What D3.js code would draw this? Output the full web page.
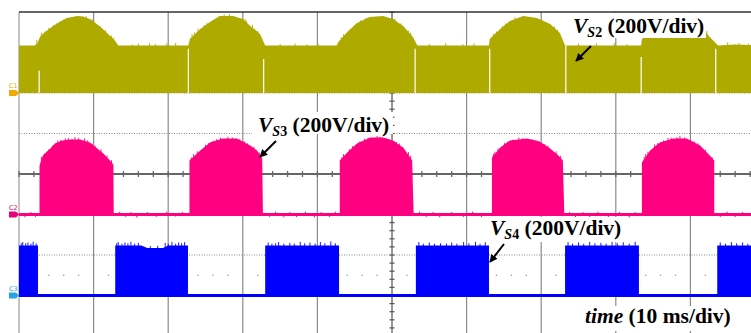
<!DOCTYPE html>
<html><head><meta charset="utf-8">
<script src="https://cdn.jsdelivr.net/npm/d3@7"></script>
<style>body{margin:0;background:#fff}svg{display:block}</style>
</head><body><svg id="c" width="751" height="333"></svg>
<script>
// ---- data (time in ms, voltage in V) ----
const timeTicks = [0,10,20,30,40,50,60,70,80,90,100];
const divTicks = [-4,-3,-2,-1,0,1,2,3,4];
const channels = ["C1","C2","C3"];
const channelOffsets = [2,-1,-3];        // graticule divisions
const voltsPerDiv = 200;

const c1Env = [[0,234],[2.1,234],[2.5,247],[2.8,277],[3.2,291],[4.2,321],[5.2,346],[6.4,370],[7.8,380],[8.6,378],[9.5,365],[10.6,336],[11.8,296],[12.9,257],[13.3,234],
[22.7,234],[22.9,267],[24.3,316],[25.6,351],[26.9,380],[28.7,380],[30.0,365],[31.0,331],[32.3,291],[33.0,234],
[42.6,234],[42.8,252],[44.0,301],[45.3,346],[47.0,375],[48.8,380],[50.1,365],[51.5,331],[52.8,277],[53.4,234],
[63.0,234],[63.1,267],[64.5,316],[65.8,356],[67.6,380],[69.4,370],[71.2,341],[72.5,296],[73.2,234],
[83.4,234],[83.5,267],[85.0,306],[86.6,356],[88.2,380],[90.0,370],[91.3,331],[92.6,277],[93.7,234],
[96.0,240],[98.0,237],[100,234]];
const c1Spikes = [[2.4,262],[3.0,298],[3.4,300],[3.6,306],[4.0,322],[4.6,336],[5.0,344],[5.5,354],[6.0,364],[9.0,380],[9.8,366],[10.1,352],[10.9,330],[11.2,318],[11.6,310],[12.4,284],[12.7,274],
[15.2,240],[16.0,244],[17.5,246],[18.3,241],[19.8,245],[21.0,247],
[23.2,290],[23.5,300],[24.0,318],[24.8,336],[25.2,346],[27.5,388],[28.2,390],[30.3,366],[30.5,356],[31.3,336],[31.6,318],[32.0,306],
[35.0,242],[37.0,244],[38.6,240],[40.1,243],
[43.2,276],[43.5,290],[44.3,312],[45.8,360],[46.5,372],[50.4,366],[50.6,354],[51.2,344],[52.2,308],[52.5,298],
[55.0,243],[57.2,246],[59.5,241],[61.0,245],
[63.6,292],[64.0,304],[64.8,330],[65.2,344],[66.5,374],[70.2,358],[70.6,350],[71.8,328],[72.2,312],
[75.0,243],[77.4,244],[79.8,246],[81.5,241],
[84.0,290],[84.3,296],[84.6,304],[85.7,334],[91.6,324],[91.8,318],[92.2,306],[95.0,250],[96.5,247],[97.8,243]];
const c1Gaps = [[2.7,110],[22.7,218],[32.8,168],[53.1,218],[63.1,218],[73.3,234],[83.4,178],[93.4,218]];

const c2Env = [[0,0],[2.75,0],[2.75,242],[3.2,291],[4.2,326],[4.8,351],[5.8,365],[6.8,370],[8.2,370],[9.5,356],[10.5,326],[11.3,301],[12.2,267],[12.65,247],[12.7,0],
[22.85,0],[22.85,267],[24.3,316],[25.6,356],[27.3,375],[29.2,375],[31.0,341],[31.9,316],[32.6,277],[32.7,0],
[43.0,0],[43.0,267],[44.0,306],[45.3,351],[47.1,380],[48.8,380],[50.1,365],[51.5,331],[52.7,267],[52.9,0],
[63.4,0],[63.4,281],[64.5,331],[65.8,365],[68.1,375],[69.8,360],[71.2,326],[72.3,291],[72.9,267],[73.1,0],
[83.5,0],[83.5,257],[84.6,316],[85.9,356],[87.7,375],[89.5,375],[91.3,341],[92.6,291],[93.2,267],[93.2,0],[100,0]];
const c2Spikes = [[3.0,285],[3.5,304],[3.8,312],[4.0,322],[4.5,340],[5.2,366],[5.6,368],[6.2,376],[6.6,378],[7.1,374],[7.5,382],[8.0,378],[8.8,376],[9.2,366],[9.8,350],[10.2,340],[11.0,322],[11.8,292],[12.4,268],
[23.1,282],[23.4,298],[23.9,312],[25.0,344],[25.4,352],[26.0,364],[26.5,372],[27.0,380],[28.0,384],[28.6,380],[29.6,374],[30.2,362],[30.6,352],[31.5,334],[32.2,308],
[43.3,284],[43.5,298],[44.3,322],[44.7,338],[45.7,362],[46.3,374],[46.8,380],[48.0,388],[48.4,384],[49.2,378],[49.6,374],[50.6,358],[51.0,350],[52.2,308],[52.5,290],
[63.6,300],[63.8,310],[64.2,326],[65.1,354],[65.5,360],[66.2,370],[67.0,380],[67.5,376],[68.8,372],[69.3,366],[70.5,348],[70.9,340],[72.0,312],[72.6,290],
[83.8,284],[84.0,298],[84.3,310],[85.2,346],[85.6,352],[86.4,366],[87.0,378],[87.4,380],[88.2,382],[88.6,388],[89.2,380],[90.0,370],[90.5,362],[91.0,352],[92.0,320],[92.9,284]];
const c2Noise = [[0.8,-14],[1.6,12],[2.2,-12],[13.5,14],[14.3,-12],[15.0,12],[15.8,-15],[17.2,12],[18.4,-12],[19.8,14],[21.0,-10],[21.9,12],
[33.6,-12],[34.4,14],[35.5,-14],[36.3,12],[37.2,-12],[38.4,14],[39.6,-14],[40.5,12],[41.6,-12],[42.4,14],
[53.7,14],[54.6,-12],[55.5,12],[56.4,-14],[58.0,12],[59.6,-12],[60.8,14],[62.0,-12],
[73.8,12],[74.6,-14],[75.6,12],[76.5,-12],[77.6,14],[79.0,-12],[80.5,12],[81.8,-14],[82.6,12],
[94.0,-12],[94.9,14],[96.0,-12],[97.0,12],[98.2,-14],[99.3,12]];

const c3Env = [[0,247],[2.55,247],[2.55,0],
[12.9,0],[12.9,247],[16.4,247],[17.2,234],[19.3,234],[20.0,247],[22.65,247],[22.65,0],
[33.0,0],[33.0,247],[42.9,247],[42.9,0],
[53.2,0],[53.2,247],[63.0,247],[63.0,0],
[73.2,0],[73.2,247],[83.1,247],[83.1,0],
[93.6,0],[93.6,247],[100,247]];
const c3Spikes = [[0.3,258],[0.5,264],[0.9,258],[1.2,262],[1.6,256],[1.9,266],[2.3,258],
[13.1,258],[13.3,264],[13.8,256],[14.2,262],[14.6,258],[15.0,265],[15.5,256],[16.0,260],[17.6,244],[18.6,246],[19.6,260],[20.0,256],[20.5,265],[21.0,256],[21.4,262],[21.8,258],[22.2,264],
[33.4,262],[33.9,256],[34.4,258],[34.8,264],[35.5,256],[36.3,260],[36.9,256],[37.7,265],[38.3,258],[39.0,262],[39.7,256],[40.4,264],[41.0,258],[41.8,267],[42.4,258],
[53.6,264],[54.2,256],[55.0,262],[55.7,256],[56.5,258],[57.3,256],[58.0,262],[58.7,256],[59.6,264],[60.3,258],[61.2,265],[61.8,256],[62.5,263],
[73.6,264],[74.2,256],[75.0,262],[75.7,256],[76.5,264],[77.2,258],[78.0,260],[78.7,256],[79.5,264],[80.2,258],[81.0,263],[81.8,256],[82.6,265],
[94.0,262],[94.7,256],[95.5,264],[96.2,258],[97.0,262],[97.7,256],[98.5,263],[99.2,258]];

const colors = ["#aeaa00","#ff0080","#0000ff"];
const markerColors = ["#f3a800","#e8007c","#2aa4e0"];

// ---- scales ----
const svg = d3.select("#c");
const x = d3.scaleLinear().domain([0,100]).range([19,765]);
const y = d3.scaleLinear().domain([-4,4]).range([336,12]);
const yV = (ch, v) => y(channelOffsets[ch] + v/voltsPerDiv);

// ---- graticule ----
const g = svg.append("g");
g.selectAll("line.v").data(timeTicks.slice(1)).join("line")
  .attr("x1", d=>x(d)).attr("x2", d=>x(d)).attr("y1", y(4)).attr("y2", 333)
  .attr("stroke", "#8a8a8a").attr("stroke-width", 1.2);
g.append("line").attr("x1", x(0)).attr("x2", x(0)).attr("y1", y(4)).attr("y2", 333)
  .attr("stroke", "#c4c4c4").attr("stroke-width", 2);
g.selectAll("line.h").data(divTicks.filter(d=>d!==0 && d!==4)).join("line")
  .attr("x1", x(0)).attr("x2", 751).attr("y1", d=>y(d)).attr("y2", d=>y(d))
  .attr("stroke", "#888").attr("stroke-width", 1).attr("stroke-dasharray", "1,1.5");
g.append("line").attr("x1", x(0)).attr("x2", 751).attr("y1", y(0)).attr("y2", y(0))
  .attr("stroke", "#666").attr("stroke-width", 2);
g.selectAll("line.ht").data(d3.range(0,100.1,2)).join("line")
  .attr("x1", d=>x(d)).attr("x2", d=>x(d)).attr("y1", y(0)-3).attr("y2", y(0)+3)
  .attr("stroke", "#666").attr("stroke-width", 1.3);
g.append("line").attr("x1", x(50)).attr("x2", x(50)).attr("y1", y(4)).attr("y2", 333)
  .attr("stroke", "#777").attr("stroke-width", 1);
g.selectAll("line.vt").data(d3.range(-4,4.01,0.2)).join("line")
  .attr("x1", x(50)-2.5).attr("x2", x(50)+2.5).attr("y1", d=>y(d)).attr("y2", d=>y(d))
  .attr("stroke", "#555").attr("stroke-width", 1.2);
g.selectAll("circle.dot").data(d3.range(2,100,2).filter(d=>d%10!==0)).join("circle")
  .attr("cx", d=>x(d)).attr("cy", y(-2.5)).attr("r", 0.8).attr("fill", "#999");

// ---- traces ----
svg.append("clipPath").attr("id","pc").append("rect")
  .attr("x", x(0)).attr("y", y(4)).attr("width", 751-x(0)).attr("height", 333-y(4));
const tr = svg.append("g").attr("clip-path","url(#pc)");
const envs = [c1Env, c2Env, c3Env];
const spikes = [c1Spikes, c2Spikes, c3Spikes];
envs.forEach((env, ch) => {
  const area = d3.area().x(d=>x(d[0])).y0(yV(ch,0)).y1(d=>yV(ch,d[1]));
  tr.append("path").datum(env).attr("d", area).attr("fill", colors[ch]);
  tr.selectAll(null).data(spikes[ch]).join("line")
    .attr("x1", d=>x(d[0])).attr("x2", d=>x(d[0])).attr("y1", yV(ch,0)).attr("y2", d=>yV(ch,d[1]))
    .attr("stroke", colors[ch]).attr("stroke-width", 0.9);
});
tr.selectAll(null).data(c1Gaps).join("line")
  .attr("x1", d=>x(d[0])).attr("x2", d=>x(d[0])).attr("y1", yV(0,0)).attr("y2", d=>yV(0,d[1]))
  .attr("stroke", "#fff").attr("stroke-width", 1.2);
[1,2].forEach(ch => {
  tr.append("line").attr("x1", x(0)).attr("x2", 751).attr("y1", yV(ch,0)).attr("y2", yV(ch,0))
    .attr("stroke", colors[ch]).attr("stroke-width", 3);
});
tr.selectAll(null).data(c2Noise).join("line")
  .attr("x1", d=>x(d[0])).attr("x2", d=>x(d[0])).attr("y1", yV(1,0)).attr("y2", d=>yV(1,d[1]))
  .attr("stroke", colors[1]).attr("stroke-width", 1);

svg.append("line").attr("x1", x(0)).attr("x2", 751).attr("y1", y(4)).attr("y2", y(4))
  .attr("stroke", "#333").attr("stroke-width", 1.5);

channels.forEach((c, ch) => {
  const b = yV(ch,0);
  svg.append("path").attr("d", `M9,${b-3}L16,${b-3}L19,${b}L16,${b+3}L9,${b+3}Z`).attr("fill", markerColors[ch]);
  svg.append("text").attr("x", 9).attr("y", b-5).attr("font-family","DejaVu Sans").attr("font-size", 6.5)
    .attr("fill", markerColors[ch]).text(c);
});

// ---- annotations ----
svg.append("defs").append("marker").attr("id","ah").attr("viewBox","0 0 10 10").attr("refX",9).attr("refY",5)
  .attr("markerWidth",4).attr("markerHeight",4).attr("orient","auto")
  .append("path").attr("d","M0,0L10,5L0,10Z").attr("fill","#000");
const ann = [
  {box:[568,13,138,25], x:573, y:33, sub:"2", arrow:[591,46,576,61]},
  {box:[252,112,141,22], x:258, y:132, sub:"3", arrow:[276,141,260,157]},
  {box:[486,217,137,25], x:490, y:235, sub:"4", arrow:[504,244,490,262]}
];
const font = "'Liberation Serif','Times New Roman',serif";
ann.forEach(a => {
  svg.append("rect").attr("x",a.box[0]).attr("y",a.box[1]).attr("width",a.box[2]).attr("height",a.box[3]).attr("fill","#fff");
  const t = svg.append("text").attr("x",a.x).attr("y",a.y).attr("font-family",font).attr("font-weight","bold").attr("font-size",21.5).attr("fill","#000");
  t.append("tspan").attr("font-style","italic").text("V");
  t.append("tspan").attr("font-style","italic").attr("font-size",14).attr("dy",4).text("S");
  t.append("tspan").attr("font-size",14).text(a.sub);
  t.append("tspan").attr("dy",-4).text(" (200V/div)");
  svg.append("line").attr("x1",a.arrow[0]).attr("y1",a.arrow[1]).attr("x2",a.arrow[2]).attr("y2",a.arrow[3])
    .attr("stroke","#000").attr("stroke-width",2).attr("marker-end","url(#ah)");
});
svg.append("rect").attr("x",580).attr("y",306).attr("width",160).attr("height",25).attr("fill","#fff");
const tt = svg.append("text").attr("x",585).attr("y",323).attr("font-family",font).attr("font-weight","bold").attr("font-size",21.5).attr("fill","#000");
tt.append("tspan").attr("font-style","italic").text("time");
tt.append("tspan").text(" (10 ms/div)");
</script></body></html>
